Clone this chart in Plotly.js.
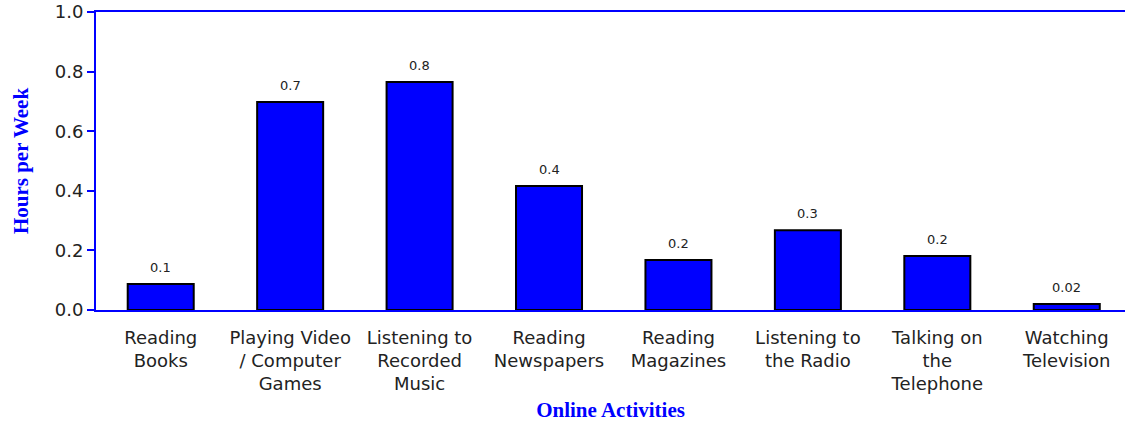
<!DOCTYPE html>
<html>
<head>
<meta charset="utf-8">
<script src="https://cdn.plot.ly/plotly-3.0.1.min.js"></script>
<style>html,body{margin:0;padding:0;background:#fff;}#chart{width:1125px;height:422px;}</style>
</head>
<body>
<div id="chart"></div>
<script>
const categories = [
  "Reading<br>Books",
  "Playing Video<br>/ Computer<br>Games",
  "Listening to<br>Recorded<br>Music",
  "Reading<br>Newspapers",
  "Reading<br>Magazines",
  "Listening to<br>the Radio",
  "Talking on<br>the<br>Telephone",
  "Watching<br>Television"
];
const hours = [0.087, 0.698, 0.765, 0.416, 0.168, 0.268, 0.181, 0.02];
const valueLabels = ["0.1", "0.7", "0.8", "0.4", "0.2", "0.3", "0.2", "0.02"];
const yTicks = [0, 0.2, 0.4, 0.6, 0.8, 1.0];
const yTickLabels = ["0.0", "0.2", "0.4", "0.6", "0.8", "1.0"];

const trace = {
  type: 'bar',
  x: categories,
  y: hours,
  width: 0.51,
  marker: {color: '#0000ff', line: {color: '#000000', width: 2}},
  hoverinfo: 'skip'
};

const annotations = categories.map((c, i) => ({
  x: c, y: hours[i], text: valueLabels[i],
  xref: 'x', yref: 'y', showarrow: false,
  yanchor: 'bottom', yshift: 7,
  font: {family: 'DejaVu Sans, Verdana, sans-serif', size: 13, color: '#222'}
}));

const layout = {
  width: 1125, height: 422,
  margin: {l: 96, r: 0, t: 12, b: 112},
  paper_bgcolor: '#fff', plot_bgcolor: '#fff',
  showlegend: false,
  bargap: 0.49,
  xaxis: {
    type: 'category',
    range: [-0.5, 7.45],
    showline: true, linecolor: '#0000ff', linewidth: 2,
    mirror: true,
    ticks: '', showgrid: false, zeroline: false,
    tickfont: {family: 'DejaVu Sans, Verdana, sans-serif', size: 18, color: '#222'},
    tickangle: 0,
    ticklabelstandoff: 10,
    automargin: false,
    title: {text: 'Online Activities', standoff: 9,
      font: {family: 'Liberation Serif, Times New Roman, serif', size: 21, color: '#0000ff', weight: 'bold'}}
  },
  yaxis: {
    range: [0, 1.0],
    tickvals: yTicks, ticktext: yTickLabels,
    showline: true, linecolor: '#0000ff', linewidth: 2,
    ticks: 'outside', ticklen: 7, tickwidth: 2, tickcolor: '#0000ff',
    showgrid: false, zeroline: false,
    tickfont: {family: 'DejaVu Sans, Verdana, sans-serif', size: 18, color: '#222'},
    automargin: false,
    title: {text: 'Hours per Week', standoff: 20,
      font: {family: 'Liberation Serif, Times New Roman, serif', size: 21, color: '#0000ff', weight: 'bold'}}
  },
  annotations: annotations
};

Plotly.newPlot('chart', [trace], layout, {displayModeBar: false, staticPlot: true});
</script>
</body>
</html>
